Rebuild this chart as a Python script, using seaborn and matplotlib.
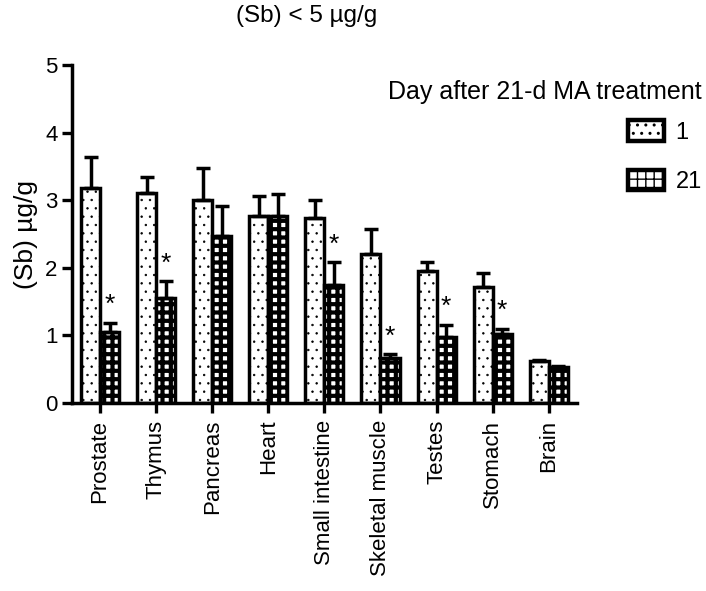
import numpy as np
import pandas as pd
import seaborn as sns
import matplotlib.pyplot as plt
from matplotlib.patches import Patch

# tissue concentrations
tissues = ["Prostate", "Thymus", "Pancreas", "Heart", "Small intestine",
           "Skeletal muscle", "Testes", "Stomach", "Brain"]
day1_mean = [3.18, 3.11, 3.01, 2.76, 2.73, 2.21, 1.96, 1.71, 0.62]
day1_upper = [3.64, 3.34, 3.48, 3.06, 3.01, 2.57, 2.08, 1.92, 0.64]
day21_mean = [1.05, 1.56, 2.47, 2.76, 1.75, 0.66, 0.97, 1.02, 0.54]
day21_upper = [1.19, 1.80, 2.91, 3.09, 2.08, 0.72, 1.16, 1.10, 0.55]
day21_signif = [True, True, False, False, True, True, True, True, False]
days = ["1", "21"]

sns.set_style("ticks")
plt.rcParams["font.family"] = ["Liberation Sans", "DejaVu Sans"]
plt.rcParams["text.color"] = "black"
plt.rcParams["axes.labelcolor"] = "black"
plt.rcParams["hatch.linewidth"] = 1.0

df = pd.DataFrame({
    "tissue": tissues * 2,
    "value": day1_mean + day21_mean,
    "day": [days[0]] * len(tissues) + [days[1]] * len(tissues),
})

fig = plt.figure(figsize=(7.06, 5.91), dpi=100)
ax = fig.add_axes([0.102, 0.318, 0.715, 0.572])

sns.barplot(data=df, x="tissue", y="value", hue="day", order=tissues,
            hue_order=days, palette=["white", "white"], width=0.68,
            errorbar=None, legend=False, ax=ax,
            edgecolor="black", linewidth=2.5)

hatches = ["..", "++"]
hatch_lw = [0.5, 3.0]
uppers = [day1_upper, day21_upper]
means = [day1_mean, day21_mean]


def set_hlw(p, lw):
    if hasattr(p, "set_hatch_linewidth"):
        p.set_hatch_linewidth(lw)
    else:
        p._hatch_linewidth = lw


bar_containers = list(ax.containers)
for k, cont in enumerate(bar_containers):
    xs = []
    for bar in cont.patches:
        bar.set_hatch(hatches[k])
        bar.set_edgecolor("black")
        set_hlw(bar, hatch_lw[k])
        xs.append(bar.get_x() + bar.get_width() / 2)
    m = np.array(means[k])
    up = np.array(uppers[k]) - m
    ax.errorbar(xs, m, yerr=[np.zeros_like(up), up], fmt="none",
                ecolor="black", elinewidth=2.5, capsize=5, capthick=2.5,
                zorder=1)
    if k == 1:
        for x, top, sig in zip(xs, uppers[k], day21_signif):
            if sig:
                ax.text(x, top + 0.08, "*", ha="center", va="bottom",
                        fontsize=19)

ax.set_ylim(0, 5)
ax.set_xlim(-0.5, len(tissues) - 0.5)
ax.set_yticks([0, 1, 2, 3, 4, 5])
ax.set_xlabel("")
ax.set_ylabel("(Sb) µg/g", fontsize=19, labelpad=5)
ax.tick_params(axis="both", direction="out", length=7, width=2.4,
               labelsize=16, colors="black")
ax.tick_params(axis="x", rotation=90, pad=5)
sns.despine(ax=ax)
for s in ["left", "bottom"]:
    ax.spines[s].set_linewidth(2.5)
    ax.spines[s].set_color("black")

fig.text(0.435, 0.973, "(Sb) < 5 µg/g", ha="center", va="center",
         fontsize=17.5)

handles = [Patch(facecolor="white", edgecolor="black", hatch=hatches[i],
                 linewidth=3.2, joinstyle="round", label=days[i])
           for i in range(2)]
for h, lw in zip(handles, hatch_lw):
    set_hlw(h, lw)
leg = fig.legend(handles=handles, title="Day after 21-d MA treatment",
                 loc="upper right", bbox_to_anchor=(1.024, 0.9),
                 frameon=False, fontsize=17, title_fontsize=18,
                 handlelength=1.5, handleheight=0.95, labelspacing=1.1,
                 handletextpad=0.5, alignment="right")
# tighten gap between legend title and entries
leg._legend_box.sep = 11.5

fig.savefig("out.png", dpi=100)
